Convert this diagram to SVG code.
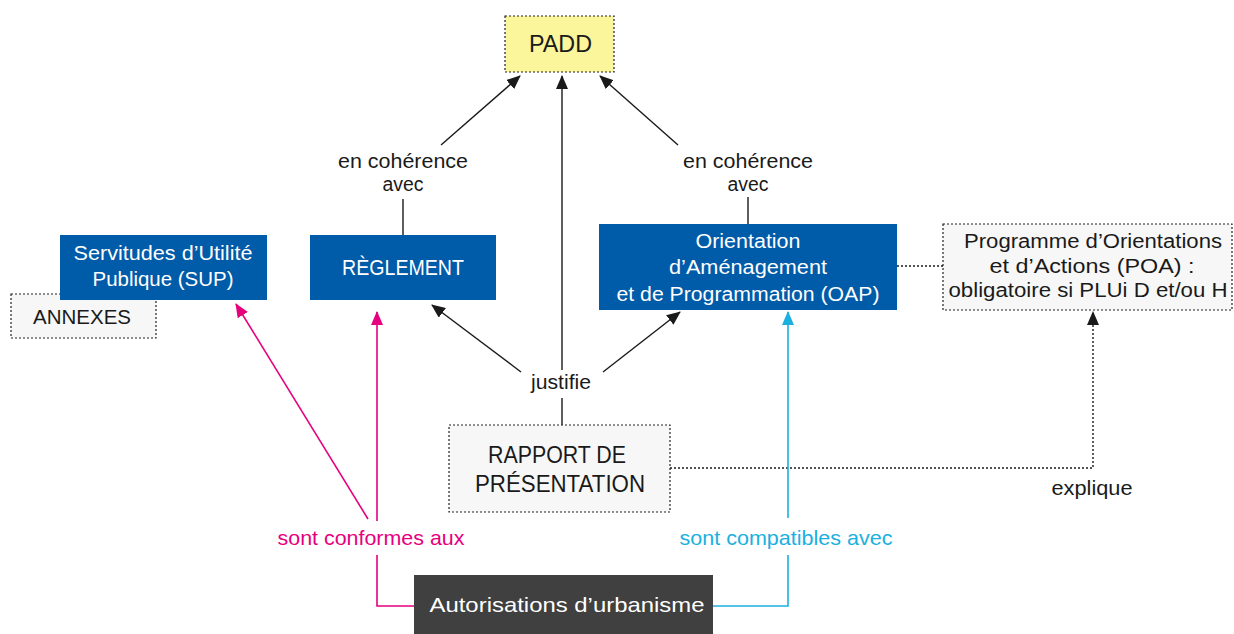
<svg xmlns="http://www.w3.org/2000/svg" width="1234" height="634" viewBox="0 0 1234 634">
<defs>
<style>
text{font-family:"Liberation Sans","DejaVu Sans",sans-serif;text-anchor:middle}
.blue{fill:#005ba9}
.wt{fill:#ffffff;font-size:20px}
.dk{fill:#1a1a1a}
.dash{fill:#f7f7f7;stroke:#222;stroke-width:1.2;stroke-dasharray:2 2}
.ln{fill:none;stroke:#1a1a1a;stroke-width:1.4}
.dot{fill:none;stroke:#1a1a1a;stroke-width:1.4;stroke-dasharray:2 2}
.pk{fill:none;stroke:#e6007e;stroke-width:1.6}
.cy{fill:none;stroke:#1bb0e0;stroke-width:1.6}
.lbl{font-size:20px;fill:#1a1a1a}
</style>
<marker id="ab" markerWidth="14" markerHeight="12" refX="13" refY="6" orient="auto" markerUnits="userSpaceOnUse"><path d="M0,0 L14,6 L0,12 z" fill="#1a1a1a"/></marker>
<marker id="ap" markerWidth="14" markerHeight="12" refX="13" refY="6" orient="auto" markerUnits="userSpaceOnUse"><path d="M0,0 L14,6 L0,12 z" fill="#e6007e"/></marker>
<marker id="ac" markerWidth="14" markerHeight="12" refX="13" refY="6" orient="auto" markerUnits="userSpaceOnUse"><path d="M0,0 L14,6 L0,12 z" fill="#1bb0e0"/></marker>
</defs>
<rect width="1234" height="634" fill="#ffffff"/>

<g id="connectors">
<line class="ln" x1="441" y1="145" x2="520" y2="76" marker-end="url(#ab)"/>
<line class="ln" x1="678" y1="145" x2="600" y2="76" marker-end="url(#ab)"/>
<line class="ln" x1="562" y1="370" x2="562" y2="76" marker-end="url(#ab)"/>
<line class="ln" x1="403" y1="199" x2="403" y2="235"/>
<line class="ln" x1="748" y1="197" x2="748" y2="224"/>
<line class="ln" x1="521" y1="372" x2="432" y2="305" marker-end="url(#ab)"/>
<line class="ln" x1="603" y1="372" x2="680" y2="312" marker-end="url(#ab)"/>
<line class="ln" x1="562" y1="398" x2="562" y2="425"/>
<line class="dot" x1="897" y1="266" x2="943" y2="266"/>
<polyline class="dot" points="670,468 1093,468 1093,312" marker-end="url(#ab)"/>
<polyline class="pk" points="414,606 377,606 377,555"/>
<line class="pk" x1="377" y1="521" x2="377" y2="312" marker-end="url(#ap)"/>
<line class="pk" x1="368" y1="519" x2="236" y2="304" marker-end="url(#ap)"/>
<polyline class="cy" points="713,606 788,606 788,555"/>
<line class="cy" x1="788" y1="518" x2="788" y2="312" marker-end="url(#ac)"/>
<text class="lbl" x="403" y="168" textLength="130" lengthAdjust="spacingAndGlyphs">en cohérence</text>
<text class="lbl" x="403" y="191" textLength="41" lengthAdjust="spacingAndGlyphs">avec</text>
<text class="lbl" x="748" y="168" textLength="130" lengthAdjust="spacingAndGlyphs">en cohérence</text>
<text class="lbl" x="748" y="191" textLength="41" lengthAdjust="spacingAndGlyphs">avec</text>
<text class="lbl" x="561" y="389" textLength="60" lengthAdjust="spacingAndGlyphs">justifie</text>
<text class="lbl" x="1092" y="495" textLength="81" lengthAdjust="spacingAndGlyphs">explique</text>
<text x="371" y="545" style="font-size:21px;fill:#e6007e" textLength="187" lengthAdjust="spacingAndGlyphs">sont conformes aux</text>
<text x="786" y="545" style="font-size:21px;fill:#1bb0e0" textLength="213" lengthAdjust="spacingAndGlyphs">sont compatibles avec</text>
</g>

<g id="padd">
<rect x="505" y="16" width="109" height="56" fill="#fbf59b" stroke="#222" stroke-width="1.2" stroke-dasharray="2 2"/>
<text class="dk" x="560.5" y="52" style="font-size:24px" textLength="63" lengthAdjust="spacingAndGlyphs">PADD</text>
</g>

<g id="annexes">
<rect class="dash" x="11" y="294" width="145" height="44"/>
<text class="dk" x="82" y="324" style="font-size:20px" textLength="98" lengthAdjust="spacingAndGlyphs">ANNEXES</text>
</g>

<g id="sup">
<rect class="blue" x="60" y="235" width="207" height="65"/>
<text class="wt" x="163" y="260" textLength="179" lengthAdjust="spacingAndGlyphs">Servitudes d’Utilité</text>
<text class="wt" x="163" y="286" textLength="141" lengthAdjust="spacingAndGlyphs">Publique (SUP)</text>
</g>

<g id="reglement">
<rect class="blue" x="310" y="235" width="186" height="65"/>
<text class="wt" x="403" y="275" style="font-size:22px" textLength="122" lengthAdjust="spacingAndGlyphs">RÈGLEMENT</text>
</g>

<g id="oap">
<rect class="blue" x="599" y="224" width="298" height="86"/>
<text class="wt" x="748" y="248" textLength="105" lengthAdjust="spacingAndGlyphs">Orientation</text>
<text class="wt" x="748" y="274" textLength="158" lengthAdjust="spacingAndGlyphs">d’Aménagement</text>
<text class="wt" x="748" y="301" textLength="263" lengthAdjust="spacingAndGlyphs">et de Programmation (OAP)</text>
</g>

<g id="poa">
<rect class="dash" x="943" y="224" width="289" height="86"/>
<text class="dk" x="1093" y="248" style="font-size:20px" textLength="258" lengthAdjust="spacingAndGlyphs">Programme d’Orientations</text>
<text class="dk" x="1092" y="273" style="font-size:20px" textLength="205" lengthAdjust="spacingAndGlyphs">et d’Actions (POA) :</text>
<text class="dk" x="1088" y="297" style="font-size:20px" textLength="279" lengthAdjust="spacingAndGlyphs">obligatoire si PLUi D et/ou H</text>
</g>

<g id="rapport">
<rect class="dash" x="449" y="425" width="221" height="87"/>
<text class="dk" x="557" y="463" style="font-size:24px" textLength="138" lengthAdjust="spacingAndGlyphs">RAPPORT DE</text>
<text class="dk" x="560" y="492" style="font-size:24px" textLength="170" lengthAdjust="spacingAndGlyphs">PRÉSENTATION</text>
</g>

<g id="autorisations">
<rect x="414" y="575" width="299" height="59" fill="#404040"/>
<text x="567" y="612" style="font-size:21px;fill:#ffffff" textLength="275" lengthAdjust="spacingAndGlyphs">Autorisations d’urbanisme</text>
</g>
</svg>
